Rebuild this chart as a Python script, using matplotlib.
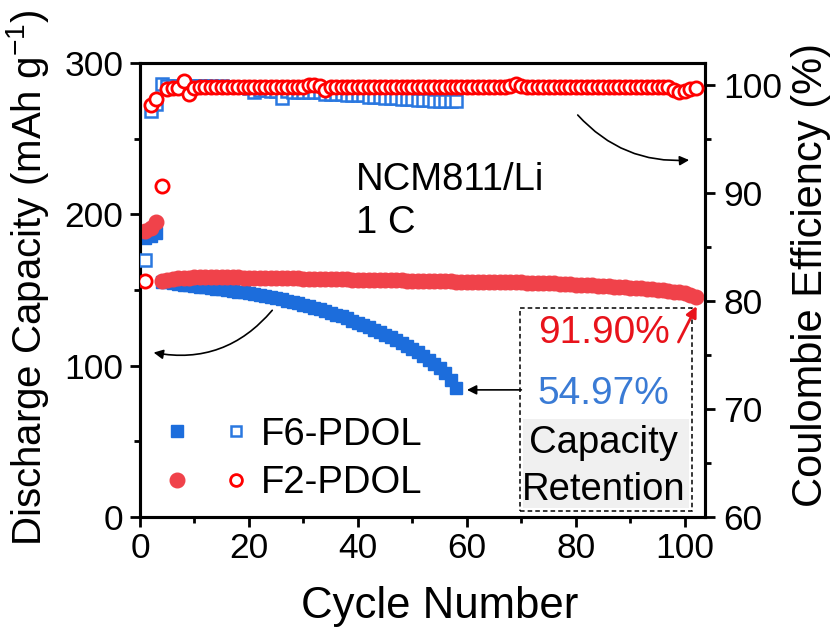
import numpy as np
import matplotlib
matplotlib.use("Agg")
import matplotlib.pyplot as plt
from matplotlib.legend_handler import HandlerTuple
from matplotlib.patches import Rectangle
from matplotlib.lines import Line2D

plt.rcParams["font.family"] = ["Liberation Sans", "DejaVu Sans"]
plt.rcParams["mathtext.default"] = "regular"

# ── discharge capacity (mAh/g) ────────────────────────────────────────────────
f6_cap = [184.5, 185.5, 187.5,
          155.5, 155.0, 154.5, 154.0, 153.5, 153.0, 152.6, 152.2, 151.8,
          151.3, 150.9, 150.5, 150.0, 149.5, 149.0, 148.5, 147.9, 147.3, 146.7,
          146.0, 145.3, 144.6, 143.8, 143.0, 142.2, 141.3, 140.4, 139.4, 138.4,
          137.3, 136.2, 135.0, 133.8, 132.5, 131.2, 129.8, 128.4, 126.9, 125.4,
          123.8, 122.2, 120.5, 118.8, 117.0, 115.1, 113.1, 111.0, 108.8, 106.5,
          104.0, 101.3, 98.3, 94.9, 90.8, 85.5]
f2_cap = [189.0, 191.0, 195.0,
          155.8, 156.6, 157.2, 157.6, 158.0, 158.2, 158.3, 158.4, 158.4, 158.5,
          158.5, 158.4, 158.4, 158.3, 158.3, 158.2, 158.2, 158.1, 158.0, 158.0,
          157.9, 157.8, 157.8, 157.7, 157.6, 157.6, 157.5, 157.4, 157.4, 157.3,
          157.2, 157.2, 157.1, 157.0, 157.0, 156.9, 156.8, 156.8, 156.7, 156.6,
          156.6, 156.5, 156.4, 156.4, 156.3, 156.2, 156.2, 156.1, 156.0, 156.0,
          155.9, 155.8, 155.8, 155.7, 155.6, 155.6, 155.6, 155.5, 155.5, 155.4,
          155.4, 155.3, 155.3, 155.2, 155.1, 155.1, 155.0, 154.9, 154.8, 154.7, 154.6,
          154.4, 154.3, 154.1, 154.0, 153.8, 153.6, 153.4, 153.3, 153.1, 152.9,
          152.7, 152.5, 152.3, 152.1, 151.9, 151.6, 151.4, 151.1, 150.9, 150.6,
          150.2, 149.8, 149.4, 148.9, 148.4, 147.7, 146.8, 145.6]

# ── coulombic efficiency (%) ──────────────────────────────────────────────────
f6_ce = [83.8, 97.6, 98.2, 100.1, 99.9, 99.9, 99.9, 100.0, 99.9, 99.9, 99.9,
         99.9, 99.9, 99.8, 99.9, 99.8, 99.8, 99.8, 99.8, 99.7, 99.3, 99.5, 99.5,
         99.4, 99.4, 98.8, 99.4, 99.3, 99.3, 99.3, 99.3, 99.3, 99.3, 99.1, 99.1,
         99.1, 99.1, 99.0, 99.0, 99.0, 99.0, 98.9, 98.9, 98.9, 98.8, 98.8, 98.8,
         98.7, 98.7, 98.7, 98.6, 98.6, 98.6, 98.5, 98.5, 98.5, 98.5, 98.5]
f2_ce = [81.8, 98.1, 98.7, 90.6, 99.6, 99.7, 99.7, 100.3, 99.1, 99.7, 99.8,
         99.8, 99.8, 99.8, 99.8, 99.8, 99.8, 99.8, 99.8, 99.8, 99.8, 99.8, 99.8,
         99.8, 99.8, 99.8, 99.8, 99.8, 99.8, 99.8, 99.95, 100.0, 99.9, 99.5, 99.8,
         99.8, 99.8, 99.8, 99.8, 99.8, 99.8, 99.8, 99.8, 99.8, 99.8, 99.8, 99.8,
         99.8, 99.8, 99.8, 99.8, 99.8, 99.8, 99.8, 99.8, 99.8, 99.8, 99.8, 99.8,
         99.8, 99.8, 99.8, 99.8, 99.8, 99.8, 99.8, 99.8, 99.9, 100.1, 99.9, 99.8,
         99.8, 99.8, 99.8, 99.8, 99.8, 99.8, 99.8, 99.8, 99.8, 99.8, 99.8, 99.8,
         99.8, 99.8, 99.8, 99.8, 99.8, 99.8, 99.8, 99.8, 99.8, 99.8, 99.8, 99.8,
         99.8, 99.8, 99.5, 99.3, 99.4, 99.6, 99.7]

f6_cyc = np.arange(1, len(f6_cap) + 1)
f2_cyc = np.arange(1, len(f2_cap) + 1)

BLUE = "#1c6ddc"
BLUE_E = "#2a78e0"
RED = "#f0424a"
RED_E = "#ff0000"

fig = plt.figure(figsize=(8.4, 6.35), dpi=100)
ax = fig.add_axes([140 / 840, 1 - 517 / 635, 565 / 840, 454 / 635])
ax2 = ax.twinx()

# capacity on the left axis
ax.plot(f6_cyc, f6_cap, ls="none", marker="s", ms=8.5, color=BLUE, mec=BLUE, zorder=3)
ax.plot(f2_cyc, f2_cap, ls="none", marker="o", ms=10.5, color=RED, mec=RED, zorder=4)

# efficiency on the right axis
ax2.plot(f6_cyc, f6_ce, ls="none", marker="s", ms=8, mfc="white", mec=BLUE_E, mew=1.8, zorder=3)
ax2.plot(f2_cyc, f2_ce, ls="none", marker="o", ms=9.5, mfc="white", mec=RED_E, mew=2.0, zorder=4)

ax.set_xlim(0, 103.7)
ax.set_ylim(0, 300)
ax2.set_ylim(60, 102)

ax.set_xticks(np.arange(0, 101, 20))
ax.set_xticks(np.arange(10, 101, 20), minor=True)
ax.set_yticks([0, 100, 200, 300])
ax.set_yticks([50, 150, 250], minor=True)
ax2.set_yticks([60, 70, 80, 90, 100])
ax2.set_yticks([65, 75, 85, 95], minor=True)

for a in (ax, ax2):
    for s in a.spines.values():
        s.set_linewidth(2.2)
    a.tick_params(which="major", direction="out", length=7, width=2, labelsize=25.5)
    a.tick_params(which="minor", direction="out", length=4.5, width=2)
ax.tick_params(axis="y", pad=5)
ax.tick_params(axis="x", pad=4)
ax2.tick_params(axis="y", pad=6)

ax.set_xlabel("Cycle Number", fontsize=31.5)
ax.set_ylabel("Discharge Capacity (mAh g$^{-1}$)", fontsize=29)
ax2.set_ylabel("Coulombie Efficiency (%)", fontsize=30)
ax.xaxis.set_label_coords(0.531, -0.153)
ax.yaxis.set_label_coords(-0.158, 0.527)
ax2.yaxis.set_label_coords(1.152, 0.533)

ax.text(39.6, 223, "NCM811/Li", fontsize=27.5, va="center", ha="left")
ax.text(39.6, 194, "1 C", fontsize=27.5, va="center", ha="left")

# retention box
ax.add_patch(Rectangle((70.3, 5.9), 30.4, 59, facecolor="#f0f0f0", edgecolor="none", zorder=1))
ax.add_patch(Rectangle((69.7, 4.0), 31.6, 134, facecolor="none", edgecolor="black",
                       lw=1.1, ls=(0, (3, 2)), zorder=5))
ax.text(85.1, 121.6, "91.90%", color="#e8131b", fontsize=28, ha="center", va="center", zorder=6)
ax.text(85.1, 81.3, "54.97%", color="#3a7bd5", fontsize=28, ha="center", va="center", zorder=6)
ax.text(85.1, 48.9, "Capacity", fontsize=27.5, ha="center", va="center", zorder=6)
ax.text(85.1, 17.8, "Retention", fontsize=27.5, ha="center", va="center", zorder=6)

# arrows
ax.annotate("", xy=(2.0, 109), xytext=(24.6, 138),
            arrowprops=dict(arrowstyle="-|>", color="black", lw=1.2,
                            connectionstyle="arc3,rad=-0.3", mutation_scale=14))
ax.annotate("", xy=(101.3, 236), xytext=(80.0, 267),
            arrowprops=dict(arrowstyle="-|>", color="black", lw=1.2,
                            connectionstyle="arc3,rad=0.25", mutation_scale=14))
ax.annotate("", xy=(59.5, 84), xytext=(70.5, 84),
            arrowprops=dict(arrowstyle="-|>", color="black", lw=1.2, mutation_scale=14),
            zorder=6)
ax.annotate("", xy=(102.4, 141), xytext=(98.6, 114),
            arrowprops=dict(arrowstyle="-|>", color="#e8131b", lw=2, mutation_scale=16),
            zorder=6)

# legend: filled = capacity, hollow = efficiency
h_f6 = (Line2D([], [], ls="none", marker="s", ms=8.5, color=BLUE),
        Line2D([], [], ls="none", marker="s", ms=7.5, mfc="white", mec=BLUE_E, mew=1.8))
h_f2 = (Line2D([], [], ls="none", marker="o", ms=10.5, color=RED),
        Line2D([], [], ls="none", marker="o", ms=8.5, mfc="white", mec=RED_E, mew=2.0))
ax2.legend([h_f6, h_f2], ["F6-PDOL", "F2-PDOL"],
           handler_map={tuple: HandlerTuple(ndivide=None, pad=0.6)},
           loc="center left", bbox_to_anchor=(0.035, 0.128), frameon=False,
           fontsize=27.5, handlelength=2.45, handletextpad=0.2, labelspacing=0.32,
           borderpad=0, borderaxespad=0)

fig.savefig("out.png", dpi=100)
plt.close(fig)
